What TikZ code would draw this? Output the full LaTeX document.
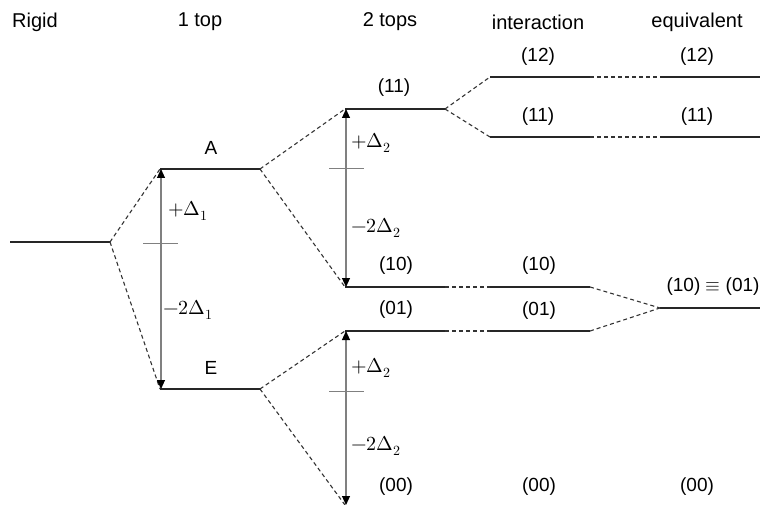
\documentclass[tikz,border=0pt]{standalone}
\usepackage{fontspec}
\usepackage{unicode-math}
\setmainfont{Liberation Sans}
\setmathfont{Latin Modern Math}
\usetikzlibrary{arrows.meta}
\begin{document}
\begin{tikzpicture}[x=1pt,y=-1pt,
  level/.style={line width=2.2pt,black!85},
  link/.style={line width=1.1pt,dash pattern=on 4pt off 3pt,black!80},
  gap/.style={gray,line width=1.1pt,{Triangle[black,length=9pt,width=8pt]}-{Triangle[black,length=9pt,width=8pt]}},
  tick/.style={gray,line width=0.9pt},
  head/.style={font=\fontsize{20}{24}\selectfont,inner sep=0pt},
  lab/.style={font=\fontsize{19}{22}\selectfont,inner sep=0pt},
  mlab/.style={font=\fontsize{20}{24}\selectfont,inner sep=0pt,anchor=west}]
\useasboundingbox (0,0) rectangle (773,505);
% headings
\node[head] (hR) at (35,22) {Rigid};
\node[head] (h1) at (200,22) {1 top};
\node[head] (h2) at (390,22) {2 tops};
\node[head] (hI) at (538,22) {interaction};
\node[head] (hE) at (697,22) {equivalent};
% level coordinates
\coordinate (rL) at (10,242);   \coordinate (rR) at (110,242);
\coordinate (aL) at (160,169);  \coordinate (aR) at (260,169);
\coordinate (eL) at (160,389);  \coordinate (eR) at (260,389);
\coordinate (t11L) at (345,109); \coordinate (t11R) at (445,109);
\coordinate (t10L) at (345,287); \coordinate (t10R) at (445,287);
\coordinate (t01L) at (345,331); \coordinate (t01R) at (445,331);
\coordinate (t00L) at (345,505);
\coordinate (i12L) at (490,77);  \coordinate (i12R) at (590,77);
\coordinate (i11L) at (490,137); \coordinate (i11R) at (590,137);
\coordinate (i10L) at (490,287); \coordinate (i10R) at (590,287);
\coordinate (i01L) at (490,331); \coordinate (i01R) at (590,331);
\coordinate (q12L) at (660,77);  \coordinate (q12R) at (760,77);
\coordinate (q11L) at (660,137); \coordinate (q11R) at (760,137);
\coordinate (q1L) at (660,308);  \coordinate (q1R) at (760,308);
% levels
\foreach \a/\b in {rL/rR,aL/aR,eL/eR,t11L/t11R,t10L/t10R,t01L/t01R,i12L/i12R,i11L/i11R,i10L/i10R,i01L/i01R,q12L/q12R,q11L/q11R,q1L/q1R}
  \draw[level] (\a) -- (\b);
% dashed links
\foreach \a/\b in {rR/aL,rR/eL,aR/t11L,aR/t10L,eR/t01L,eR/t00L,t11R/i12L,t11R/i11L,t10R/i10L,t01R/i01L,i12R/q12L,i11R/q11L,i10R/q1L,i01R/q1L}
  \draw[link] (\a) -- (\b);
% splitting arrows
\coordinate (g1t) at (161,169); \coordinate (g1b) at (161,389);
\draw[gap] (g1b) -- (g1t);
\coordinate (k1a) at (143,243); \coordinate (k1b) at (178,243);
\draw[tick] (k1a) -- (k1b);
\coordinate (g2t) at (346,109); \coordinate (g2b) at (346,287);
\draw[gap] (g2b) -- (g2t);
\coordinate (k2a) at (329,168); \coordinate (k2b) at (364,168);
\draw[tick] (k2a) -- (k2b);
\coordinate (g3t) at (346,331); \coordinate (g3b) at (346,505);
\draw[gap] (g3b) -- (g3t);
\coordinate (k3a) at (329,391); \coordinate (k3b) at (364,391);
\draw[tick] (k3a) -- (k3b);
% math labels
\node[mlab] (d1p) at (168,211) {$+\Delta_1$};
\node[mlab] (d1m) at (163,310) {$-2\Delta_1$};
\node[mlab] (d2p) at (351,143) {$+\Delta_2$};
\node[mlab] (d2m) at (351,228) {$-2\Delta_2$};
\node[mlab] (d3p) at (351,368) {$+\Delta_2$};
\node[mlab] (d3m) at (351,446) {$-2\Delta_2$};
% level labels
\node[lab] (lA) at (211,148) {A};
\node[lab] (lE) at (211,368) {E};
\node[lab] (l11) at (394,88) {(11)};
\node[lab] (l10) at (396,266) {(10)};
\node[lab] (l01) at (396,310) {(01)};
\node[lab] (l00) at (396,487) {(00)};
\node[lab] (m12) at (538,57) {(12)};
\node[lab] (m11) at (538,117) {(11)};
\node[lab] (m10) at (539,266) {(10)};
\node[lab] (m01) at (539,311) {(01)};
\node[lab] (m00) at (539,487) {(00)};
\node[lab] (n12) at (697,57) {(12)};
\node[lab] (n11) at (697,117) {(11)};
\node[lab] (n1) at (713,287) {(10) $\equiv$ (01)};
\node[lab] (n00) at (697,487) {(00)};
\end{tikzpicture}
\end{document}
